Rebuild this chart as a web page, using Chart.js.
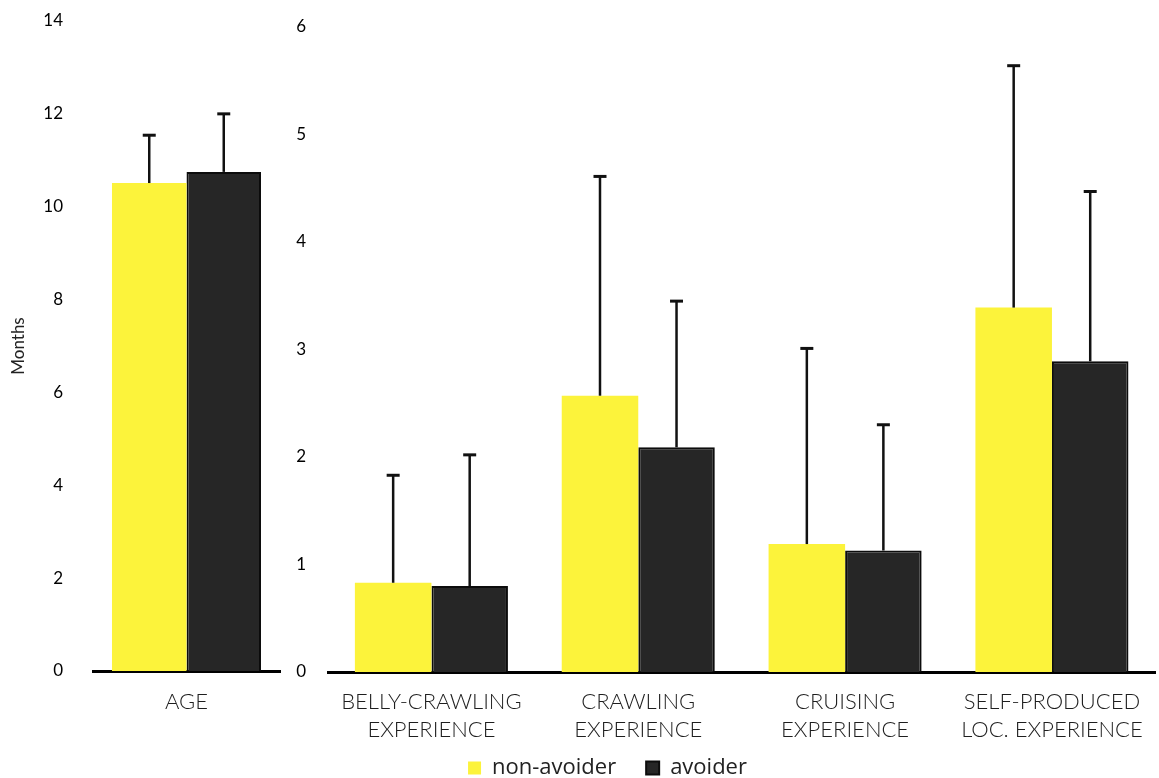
<!DOCTYPE html>
<html>
<head>
<meta charset="utf-8">
<script src="https://cdn.jsdelivr.net/npm/chart.js@4.4.1/dist/chart.umd.min.js"></script>
<style>
  html, body { margin: 0; padding: 0; background: #fff; }
  #wrap { position: relative; width: 1159px; height: 778px; overflow: hidden; }
  #ageChart { position: absolute; left: 0; top: 0; }
  #expChart { position: absolute; left: 280px; top: 0; }
</style>
</head>
<body>
<div id="wrap">
  <canvas id="ageChart" width="300" height="778"></canvas>
  <canvas id="expChart" width="879" height="778"></canvas>
</div>
<script>
// Group names
const seriesNames = ['non-avoider', 'avoider'];

// Age panel (months)
const ageCategories = ['AGE'];
const ageNonAvoider = [10.51];
const ageAvoider = [10.75];
const ageNonAvoiderSD = [1.03];
const ageAvoiderSD = [1.25];
const ageTicks = [0, 2, 4, 6, 8, 10, 12, 14];

// Locomotor experience panel (months)
const expCategories = [
  ['BELLY-CRAWLING', 'EXPERIENCE'],
  ['CRAWLING', 'EXPERIENCE'],
  ['CRUISING', 'EXPERIENCE'],
  ['SELF-PRODUCED', 'LOC. EXPERIENCE']
];
const expNonAvoider = [0.83, 2.57, 1.19, 3.39];
const expAvoider = [0.80, 2.09, 1.13, 2.89];
const expNonAvoiderSD = [1.00, 2.04, 1.82, 2.25];
const expAvoiderSD = [1.22, 1.36, 1.17, 1.58];
const expTicks = [0, 1, 2, 3, 4, 5, 6];

const YELLOW = '#fcf33b';
const DARK = '#262626';
const DARK_EDGE = '#0c0c0c';

// Upper error whiskers (mean + SD) drawn from each dataset's "sd" array
const errorBars = {
  id: 'errorBars',
  afterDatasetsDraw(chart) {
    const ctx = chart.ctx;
    const yScale = chart.scales.y;
    chart.data.datasets.forEach((ds, i) => {
      const meta = chart.getDatasetMeta(i);
      meta.data.forEach((bar, j) => {
        const top = yScale.getPixelForValue(ds.data[j] + ds.sd[j]);
        ctx.save();
        ctx.strokeStyle = '#111';
        ctx.lineCap = 'butt';
        ctx.lineWidth = 2.5;
        ctx.beginPath();
        ctx.moveTo(bar.x, bar.y);
        ctx.lineTo(bar.x, top);
        ctx.stroke();
        ctx.lineWidth = 3;
        ctx.beginPath();
        ctx.moveTo(bar.x - 6.5, top);
        ctx.lineTo(bar.x + 6.5, top);
        ctx.stroke();
        ctx.restore();
      });
    });
  }
};

// The legend reserves no layout room and is centred under the whole figure
const LEGEND_CENTER_X = 327.5;
const LEGEND_CENTER_Y = 768;
const placeLegend = {
  id: 'placeLegend',
  beforeLayout(chart) {
    const lg = chart.legend;
    if (lg && !lg._noRoom) {
      const fit = lg.fit;
      lg.fit = function () {
        fit.call(this);
        this._fullHeight = this.height;
        this.height = 0;
      };
      lg._noRoom = true;
    }
  },
  afterUpdate(chart) {
    const lg = chart.legend;
    if (!lg) return;
    const w = lg.width;
    const h = lg._fullHeight || lg.height;
    lg.height = h;
    lg.left = LEGEND_CENTER_X - w / 2;
    lg.right = lg.left + w;
    const pad = lg.options.labels.padding;
    const fs = lg.options.labels.font.size;
    lg.top = LEGEND_CENTER_Y - pad - fs / 2;
    lg.bottom = lg.top + h;
    lg.adjustHitBoxes();
  }
};

const tickFont = { family: 'Lato', size: 17 };
const catFont = { family: 'Lato', size: 22, weight: '300', lineHeight: 1.27 };

function barSets(a, b, sa, sb) {
  return [
    { label: seriesNames[0], data: a, sd: sa, backgroundColor: YELLOW, borderWidth: 0 },
    { label: seriesNames[1], data: b, sd: sb, backgroundColor: DARK, borderColor: DARK_EDGE, borderWidth: 2, borderSkipped: 'bottom' }
  ];
}

function fixYAxis(width) {
  return s => {
    s.width = width;
    s.paddingTop = 0;
    s.paddingBottom = 0;
  };
}

new Chart(document.getElementById('ageChart'), {
  type: 'bar',
  data: { labels: ageCategories, datasets: barSets(ageNonAvoider, ageAvoider, ageNonAvoiderSD, ageAvoiderSD) },
  options: {
    responsive: false,
    animation: false,
    events: [],
    layout: { padding: { top: 21, right: 20, bottom: 0, left: 0 } },
    datasets: { bar: { categoryPercentage: 0.797, barPercentage: 1.0 } },
    plugins: { legend: { display: false }, tooltip: { enabled: false } },
    scales: {
      x: {
        grid: { display: false, drawTicks: false },
        border: { display: true, color: '#000', width: 3 },
        ticks: { font: catFont, color: '#1e1e1e', padding: 17 },
        afterFit: s => { s.height = 107; }
      },
      y: {
        min: 0, max: 14,
        grid: { display: false, drawTicks: false },
        border: { display: false },
        ticks: { font: tickFont, color: '#000', padding: 30 },
        afterBuildTicks: s => { s.ticks = ageTicks.map(v => ({ value: v })); },
        afterFit: fixYAxis(93),
        title: { display: true, text: 'Months', font: { family: 'Lato', size: 17 }, color: '#222', padding: { top: 8, bottom: 0 } }
      }
    }
  },
  plugins: [errorBars]
});

new Chart(document.getElementById('expChart'), {
  type: 'bar',
  data: { labels: expCategories, datasets: barSets(expNonAvoider, expAvoider, expNonAvoiderSD, expAvoiderSD) },
  options: {
    responsive: false,
    animation: false,
    events: [],
    layout: { padding: { top: 27, right: 2, bottom: 0, left: 0 } },
    datasets: { bar: { categoryPercentage: 0.74, barPercentage: 1.0 } },
    plugins: {
      tooltip: { enabled: false },
      legend: {
        display: true,
        position: 'bottom',
        labels: {
          font: { family: 'Open Sans', size: 22 },
          color: '#222',
          boxWidth: 13,
          boxHeight: 13,
          padding: 30
        }
      }
    },
    scales: {
      x: {
        grid: { display: false, drawTicks: false },
        border: { display: true, color: '#000', width: 3 },
        ticks: { font: catFont, color: '#1e1e1e', padding: 16, maxRotation: 0, autoSkip: false },
        afterFit: s => { s.height = 106; }
      },
      y: {
        min: 0, max: 6,
        grid: { display: false, drawTicks: false },
        border: { display: false },
        ticks: { font: tickFont, color: '#000', padding: 22 },
        afterBuildTicks: s => { s.ticks = expTicks.map(v => ({ value: v })); },
        afterFit: fixYAxis(48)
      }
    }
  },
  plugins: [errorBars, placeLegend]
});
</script>
</body>
</html>
